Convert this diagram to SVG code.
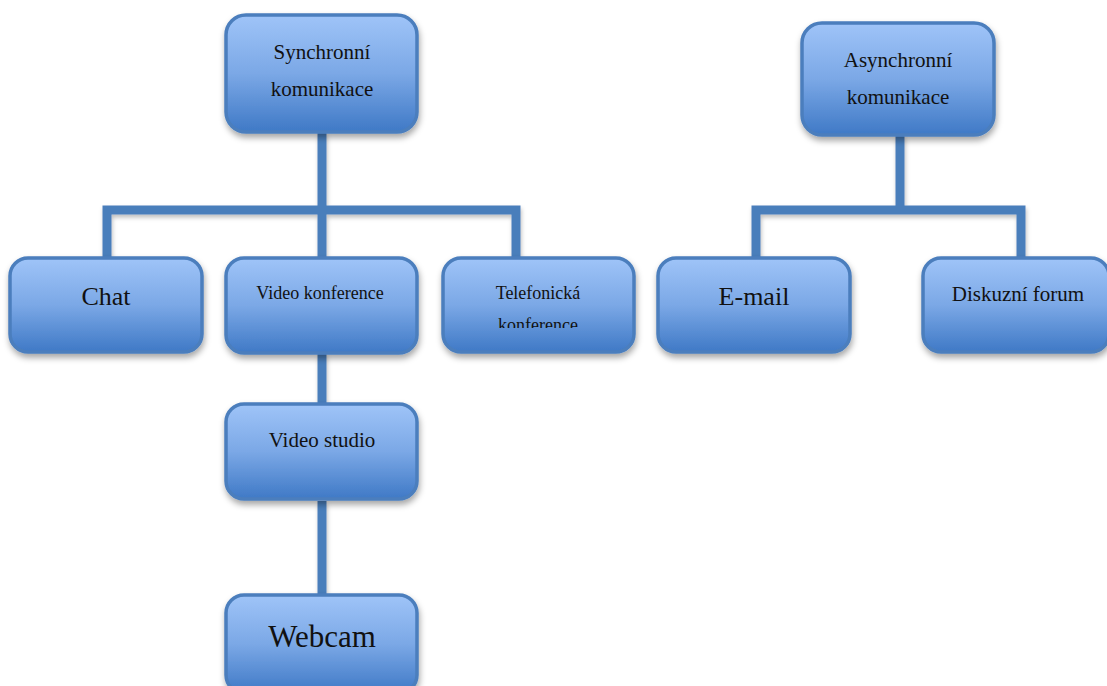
<svg xmlns="http://www.w3.org/2000/svg" width="1107" height="686" viewBox="0 0 1107 686">
<style>
.box{fill:url(#g);stroke:#4b7ebd;stroke-width:3.5;filter:url(#sh)}
.con{fill:none;stroke:#4a7ebb;stroke-width:9;filter:url(#sh2)}
text{font-family:"Liberation Serif",Tinos,"Times New Roman","DejaVu Serif",serif;fill:#111;text-anchor:middle}
</style>
<defs>
<linearGradient id="g" x1="0" y1="0" x2="0" y2="1">
<stop offset="0" stop-color="#9fc4f8"/>
<stop offset="0.5" stop-color="#7ba8e6"/>
<stop offset="1" stop-color="#3f79c6"/>
</linearGradient>
<filter id="sh" x="-10%" y="-10%" width="125%" height="130%">
<feDropShadow dx="1" dy="4" stdDeviation="3" flood-color="#000" flood-opacity="0.35"/>
</filter>
<filter id="sh2" filterUnits="userSpaceOnUse" x="0" y="0" width="1107" height="686">
<feDropShadow dx="1" dy="3" stdDeviation="2" flood-color="#000" flood-opacity="0.25"/>
</filter>
<clipPath id="telclip"><rect x="443" y="258" width="191" height="70"/></clipPath>
</defs>
<g id="connectors">
<path class="con" d="M322 132 V210 M107 258 V210 H516 V258 M322 210 V258"/>
<path class="con" d="M900 135 V210 M756 258 V210 H1021 V258"/>
<path class="con" d="M322 353 V404"/>
<path class="con" d="M322 501 V595"/>
</g>
<g id="sync">
<rect class="box" x="226" y="15" width="191" height="117" rx="20"/>
<text x="322" y="59" font-size="21" font-family="Liberation Serif, serif">Synchronní</text>
<text x="322" y="96" font-size="21" font-family="Liberation Serif, serif">komunikace</text>
</g>
<g id="async">
<rect class="box" x="802" y="23" width="192" height="112" rx="20"/>
<text x="898" y="67" font-size="21" font-family="Liberation Serif, serif">Asynchronní</text>
<text x="898" y="104" font-size="21" font-family="Liberation Serif, serif">komunikace</text>
</g>
<g id="chat">
<rect class="box" x="10" y="258" width="192" height="94" rx="18"/>
<text x="106" y="305" font-size="26" font-family="Liberation Serif, serif">Chat</text>
</g>
<g id="videokonf">
<rect class="box" x="226" y="258" width="191" height="95" rx="18"/>
<text x="320" y="299" font-size="18" font-family="Liberation Serif, serif">Video konference</text>
</g>
<g id="telefon">
<rect class="box" x="443" y="258" width="191" height="94" rx="18"/>
<text x="538" y="299" font-size="18" font-family="Liberation Serif, serif">Telefonická</text>
<text x="538" y="331" font-size="18" font-family="Liberation Serif, serif" clip-path="url(#telclip)">konference</text>
</g>
<g id="email">
<rect class="box" x="658" y="258" width="192" height="94" rx="18"/>
<text x="754" y="305" font-size="26" font-family="Liberation Serif, serif">E-mail</text>
</g>
<g id="diskuzni">
<rect class="box" x="923" y="258" width="186" height="94" rx="18"/>
<text x="1018" y="301" font-size="21" font-family="Liberation Serif, serif">Diskuzní forum</text>
</g>
<g id="videostudio">
<rect class="box" x="226" y="404" width="191" height="95" rx="18"/>
<text x="322" y="447" font-size="21" font-family="Liberation Serif, serif">Video studio</text>
</g>
<g id="webcam">
<rect class="box" x="226" y="595" width="191" height="98" rx="18"/>
<text x="322" y="647" font-size="31" font-family="Liberation Serif, serif">Webcam</text>
</g>
</svg>
